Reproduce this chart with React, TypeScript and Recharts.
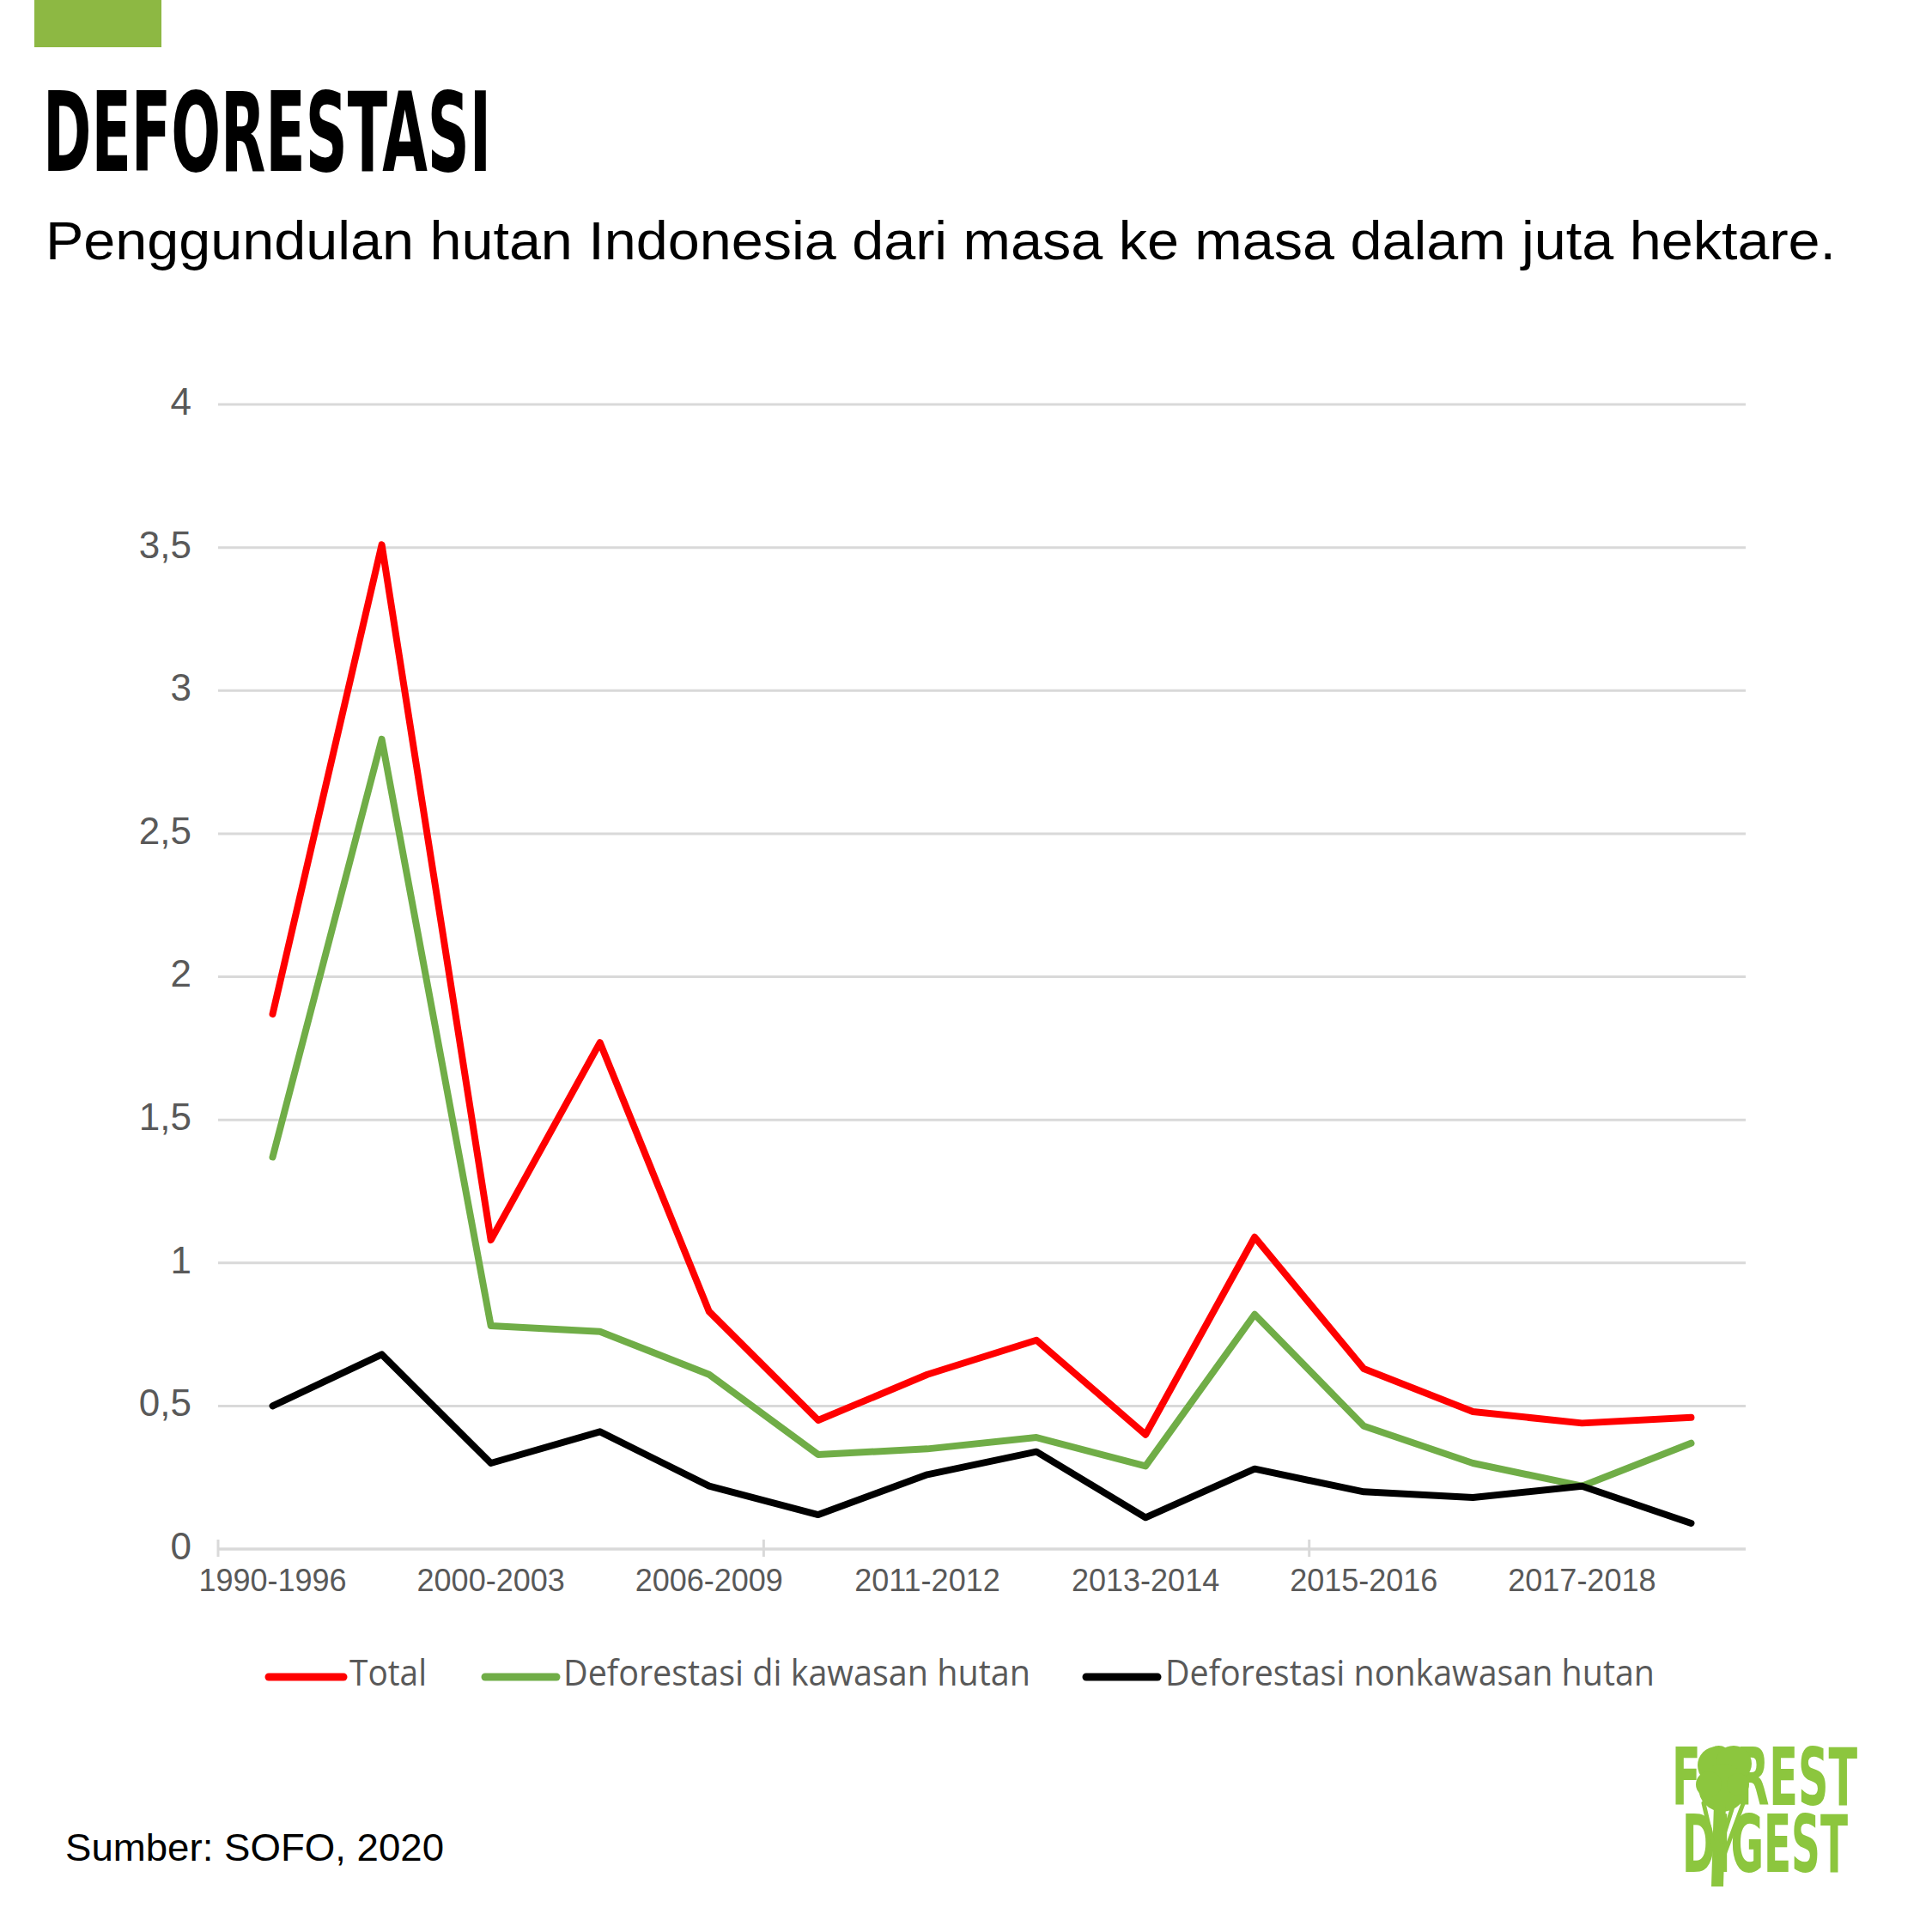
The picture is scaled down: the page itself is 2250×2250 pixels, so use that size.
import React from 'react';
import { LineChart, Line, XAxis, YAxis, CartesianGrid } from 'recharts';

const periods = ['1990-1996', '1996-2000', '2000-2003', '2003-2006', '2006-2009', '2009-2011', '2011-2012', '2012-2013', '2013-2014', '2014-2015', '2015-2016', '2016-2017', '2017-2018', '2018-2019'];
const total = [1.87, 3.51, 1.08, 1.77, 0.83, 0.45, 0.61, 0.73, 0.4, 1.09, 0.63, 0.48, 0.44, 0.46];
const kawasan = [1.37, 2.83, 0.78, 0.76, 0.61, 0.33, 0.35, 0.39, 0.29, 0.82, 0.43, 0.3, 0.22, 0.37];
const nonkawasan = [0.5, 0.68, 0.3, 0.41, 0.22, 0.12, 0.26, 0.34, 0.11, 0.28, 0.2, 0.18, 0.22, 0.09];
const yTicks = [0, 0.5, 1, 1.5, 2, 2.5, 3, 3.5, 4];
const seriesKeys = ['total', 'kawasan', 'nonkawasan'];
const seriesNames = ['Total', 'Deforestasi di kawasan hutan', 'Deforestasi nonkawasan hutan'];
const seriesColors = ['#FF0000', '#70AD47', '#000000'];

const data = periods.map((p, i) => ({ period: p, total: total[i], kawasan: kawasan[i], nonkawasan: nonkawasan[i] }));

const W = 2250;
const H = 2250;
const PLOT_LEFT = 254;
const PLOT_RIGHT = 2033;
const HALF_BAND = (PLOT_RIGHT - PLOT_LEFT) / periods.length / 2;
const GRID = '#d9d9d9';
const TXT = '#595959';
const SANS = "'Liberation Sans', Arial, Helvetica, sans-serif";
const NARROW = "'Liberation Sans Narrow', 'DejaVu Sans Condensed', 'Liberation Sans', Arial, sans-serif";
const LOGO_GREEN = '#8CC63E';

const XTick = (props: any) => {
  const { x, y, payload } = props;
  const i = payload && typeof payload.index === 'number' ? payload.index : props.index;
  return (
    <g>
      {i % 5 === 0 && (
        <line x1={x - HALF_BAND} x2={x - HALF_BAND} y1={y - 11} y2={y + 9} stroke={GRID} strokeWidth={3} />
      )}
      {i % 2 === 0 && (
        <text x={x} y={y + 49} textAnchor="middle" fontSize={36} fill={TXT} fontFamily={SANS}>
          {payload.value}
        </text>
      )}
    </g>
  );
};

const YTick = (props: any) => {
  const { x, y, payload } = props;
  return (
    <text x={x} y={y} dy="0.27em" textAnchor="end" fontSize={44} fill={TXT} fontFamily={SANS}>
      {String(payload.value).replace('.', ',')}
    </text>
  );
};

const legendItems = [
  { lx1: 313, lx2: 400, tx: 407, tw: 90 },
  { lx1: 565, lx2: 648, tx: 656, tw: 544 },
  { lx1: 1265, lx2: 1348, tx: 1357, tw: 570 },
];

export default function App() {
  return (
    <div style={{ position: 'absolute', left: 0, top: 0, width: W, height: H, background: '#ffffff', overflow: 'hidden' }}>
      <div style={{ position: 'absolute', left: 0, top: 0 }}>
        <LineChart width={W} height={H} data={data} margin={{ top: 471, right: W - PLOT_RIGHT, bottom: 346, left: 0 }}>
          <CartesianGrid horizontal={true} vertical={false} stroke={GRID} strokeWidth={3} />
          <XAxis
            dataKey="period"
            interval={0}
            height={100}
            padding={{ left: HALF_BAND, right: HALF_BAND }}
            axisLine={{ stroke: GRID, strokeWidth: 3 }}
            tickLine={false}
            tickSize={0}
            tickMargin={0}
            tick={<XTick />}
          />
          <YAxis
            width={PLOT_LEFT}
            domain={[0, 4]}
            ticks={yTicks}
            axisLine={false}
            tickLine={false}
            tickSize={0}
            tickMargin={31}
            tick={<YTick />}
          />
          {seriesKeys.map((k, i) => (
            <Line
              key={k}
              type="linear"
              dataKey={k}
              name={seriesNames[i]}
              stroke={seriesColors[i]}
              strokeWidth={8}
              strokeLinecap="round"
              strokeLinejoin="round"
              dot={false}
              activeDot={false}
              isAnimationActive={false}
            />
          ))}
        </LineChart>
      </div>
      <svg width={W} height={H} style={{ position: 'absolute', left: 0, top: 0, pointerEvents: 'none' }}>
        <rect x={40} y={0} width={148} height={55} fill="#8DB843" />
        <text x={50} y={199} fontSize={129} fontWeight="bold" fontFamily={NARROW} fill="#000" textLength={522} lengthAdjust="spacingAndGlyphs">
          DEFORESTASI
        </text>
        <text x={53} y={302} fontSize={63} fontFamily={SANS} fill="#000" textLength={2085} lengthAdjust="spacingAndGlyphs">
          Penggundulan hutan Indonesia dari masa ke masa dalam juta hektare.
        </text>
        {legendItems.map((it, i) => (
          <g key={i}>
            <line x1={it.lx1} x2={it.lx2} y1={1953} y2={1953} stroke={seriesColors[i]} strokeWidth={9} strokeLinecap="round" />
            <text x={it.tx} y={1963} fontSize={42} fontFamily="'Open Sans', 'Noto Sans', sans-serif" fill={TXT} textLength={it.tw} lengthAdjust="spacingAndGlyphs">
              {seriesNames[i]}
            </text>
          </g>
        ))}
        <text x={76} y={2167} fontSize={44} fontFamily={SANS} fill="#000" textLength={441} lengthAdjust="spacingAndGlyphs">
          Sumber: SOFO, 2020
        </text>
        <g fill={LOGO_GREEN}>
          <text x={1947} y={2102} fontSize={92} fontWeight="bold" fontFamily={NARROW} textLength={216} lengthAdjust="spacingAndGlyphs">
            FOREST
          </text>
          <text x={1959} y={2180} fontSize={92} fontWeight="bold" fontFamily={NARROW} textLength={193} lengthAdjust="spacingAndGlyphs">
            DIGEST
          </text>
          <circle cx={1999} cy={2056} r={22} />
          <circle cx={2019} cy={2054} r={21} />
          <circle cx={2006} cy={2082} r={28} />
          <circle cx={1990} cy={2078} r={15} />
          <circle cx={2024} cy={2078} r={13} />
          <polygon points="1996,2100 2010,2100 2007,2197 1993,2197" />
        </g>
        <g stroke={LOGO_GREEN} strokeWidth={5} fill="none" strokeLinecap="round">
          <line x1={1984} y1={2100} x2={1998} y2={2160} />
          <line x1={2031} y1={2098} x2={2008} y2={2160} />
          <line x1={2018} y1={2104} x2={2005} y2={2145} />
        </g>
      </svg>
    </div>
  );
}
